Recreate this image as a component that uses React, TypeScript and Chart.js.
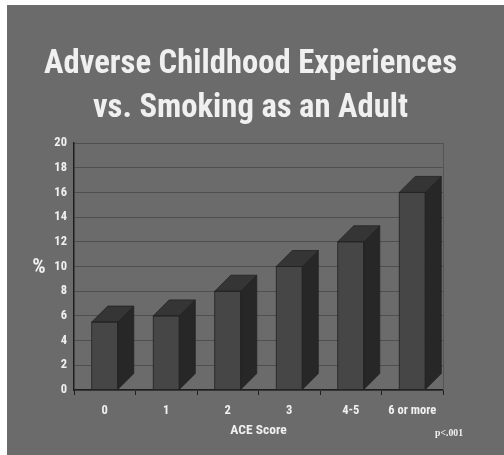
import React, { useEffect, useRef } from "react";
import { Chart, registerables } from "chart.js";

Chart.register(...registerables);

const categories = ["0", "1", "2", "3", "4-5", "6 or more"];
const smokingPct = [5.5, 6, 8, 10, 12, 16];
const titleLines = ["Adverse Childhood Experiences", "vs. Smoking as an Adult"];
const xAxisTitle = "ACE Score";
const yAxisTitle = "%";
const noteText = "p<.001";
const yMin = 0;
const yMax = 20;
const yStep = 2;

const FONT = '"Roboto Condensed", "DejaVu Sans Condensed", "Liberation Sans", sans-serif';
const BG = "#6b6b6b";
const TEXT = "#f0f0f0";
const FRONT = "#464646";
const TOP = "#353535";
const SIDE = "#272727";
const DEPTH_X = 16;
const DEPTH_Y = 16;

const bgPlugin = {
  id: "bgFill",
  beforeDraw(chart: any) {
    const { ctx, width, height } = chart;
    ctx.save();
    ctx.fillStyle = BG;
    ctx.fillRect(0, 0, width, height);
    ctx.restore();
  },
};

const box3dPlugin = {
  id: "box3d",
  afterDatasetsDraw(chart: any) {
    const ctx = chart.ctx;
    const meta = chart.getDatasetMeta(0);
    ctx.save();
    ctx.lineWidth = 0.8;
    ctx.strokeStyle = "#222222";
    meta.data.forEach((bar: any) => {
      const p = bar.getProps(["x", "y", "base", "width"], true);
      const l = p.x - p.width / 2;
      const r = p.x + p.width / 2;
      const t = p.y;
      const b = p.base;
      // side
      ctx.beginPath();
      ctx.moveTo(r, t);
      ctx.lineTo(r + DEPTH_X, t - DEPTH_Y);
      ctx.lineTo(r + DEPTH_X, b - DEPTH_Y);
      ctx.lineTo(r, b);
      ctx.closePath();
      ctx.fillStyle = SIDE;
      ctx.fill();
      ctx.stroke();
      // top
      ctx.beginPath();
      ctx.moveTo(l, t);
      ctx.lineTo(l + DEPTH_X, t - DEPTH_Y);
      ctx.lineTo(r + DEPTH_X, t - DEPTH_Y);
      ctx.lineTo(r, t);
      ctx.closePath();
      ctx.fillStyle = TOP;
      ctx.fill();
      ctx.stroke();
      // front outline
      ctx.strokeRect(l, t, r - l, b - t);
    });
    ctx.restore();
  },
};

const decoPlugin = {
  id: "deco",
  afterDraw(chart: any) {
    const ctx = chart.ctx;
    const ca = chart.chartArea;
    ctx.save();
    // right frame line
    ctx.strokeStyle = "#555555";
    ctx.lineWidth = 1;
    ctx.beginPath();
    ctx.moveTo(ca.right + 0.5, ca.top);
    ctx.lineTo(ca.right + 0.5, ca.bottom);
    ctx.stroke();

    // title
    ctx.fillStyle = TEXT;
    ctx.font = `bold 33px ${FONT}`;
    ctx.textAlign = "center";
    ctx.textBaseline = "alphabetic";
    const w0 = ctx.measureText(titleLines[0]).width;
    const sx = 413 / w0;
    const cx = chart.width / 2 - 5;
    const baselines = [68, 112];
    titleLines.forEach((line, i) => {
      ctx.save();
      ctx.translate(cx, baselines[i]);
      ctx.scale(sx, 1);
      ctx.fillText(line, 0, 0);
      ctx.restore();
    });

    // "%" label
    ctx.font = `bold 21px ${FONT}`;
    ctx.textAlign = "center";
    ctx.textBaseline = "middle";
    ctx.fillText(yAxisTitle, ca.left - 35, (ca.top + ca.bottom) / 2 + 1);

    // p value note
    ctx.font = `bold 11px "Liberation Serif", "Times New Roman", serif`;
    ctx.textAlign = "left";
    ctx.textBaseline = "alphabetic";
    const wn = ctx.measureText(noteText).width;
    ctx.save();
    ctx.translate(ca.right - 8, 431);
    ctx.scale(28 / wn, 1);
    ctx.fillText(noteText, 0, 0);
    ctx.restore();
    ctx.restore();
  },
};

export default function App() {
  const ref = useRef<HTMLCanvasElement | null>(null);

  useEffect(() => {
    if (!ref.current) return;
    const chart = new Chart(ref.current, {
      type: "bar",
      data: {
        labels: categories,
        datasets: [
          {
            data: smokingPct,
            backgroundColor: FRONT,
            borderWidth: 0,
            barPercentage: 0.423,
            categoryPercentage: 1,
          },
        ],
      },
      options: {
        responsive: false,
        animation: false,
        devicePixelRatio: 1,
        layout: { padding: { top: 138, right: 61, bottom: 15, left: 0 } },
        plugins: {
          legend: { display: false },
          tooltip: { enabled: false },
          title: { display: false },
        },
        scales: {
          x: {
            afterFit: (scale: any) => {
              scale.height = 50;
            },
            grid: {
              offset: true,
              drawOnChartArea: false,
              drawTicks: true,
              tickLength: 5,
              color: "#1e1e1e",
            },
            border: { color: "#1e1e1e", width: 1.5 },
            ticks: {
              color: TEXT,
              padding: 8,
              font: { family: FONT, size: 12.5, weight: "bold" },
            },
            title: {
              display: true,
              text: xAxisTitle,
              color: TEXT,
              padding: { top: 0, bottom: 1 },
              font: { family: FONT, size: 13.5, weight: "bold" },
            },
          },
          y: {
            min: yMin,
            max: yMax,
            afterFit: (scale: any) => {
              scale.width = 67;
            },
            grid: { color: "#4f4f4f", drawTicks: false, lineWidth: 1 },
            border: { color: "#1e1e1e", width: 1.5 },
            ticks: {
              stepSize: yStep,
              color: TEXT,
              padding: 7,
              font: { family: FONT, size: 12.5, weight: "bold" },
            },
          },
        },
      },
      plugins: [bgPlugin, box3dPlugin, decoPlugin],
    } as any);
    return () => chart.destroy();
  }, []);

  return (
    <div
      style={{
        position: "fixed",
        left: 0,
        top: 0,
        width: 504,
        height: 455,
        background: "#ffffff",
      }}
    >
      <canvas
        ref={ref}
        width={497}
        height={450}
        style={{ position: "absolute", left: 7, top: 5, width: 497, height: 450 }}
      />
    </div>
  );
}
